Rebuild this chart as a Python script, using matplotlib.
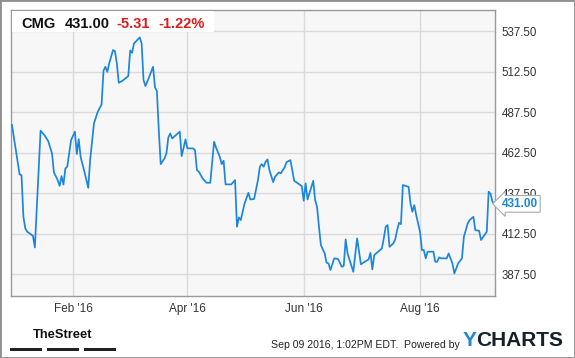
import matplotlib
matplotlib.use("Agg")
import matplotlib.pyplot as plt
from matplotlib.patches import Rectangle
from matplotlib.transforms import offset_copy
import pandas as pd

ticker = "CMG"
last_price = 431.00
change = -5.31
change_pct = -1.22

dates = [
    "2015-12-31", "2016-01-04", "2016-01-05", "2016-01-06", "2016-01-07", "2016-01-08",
    "2016-01-11", "2016-01-12", "2016-01-15", "2016-01-17", "2016-01-19", "2016-01-21",
    "2016-01-22", "2016-01-24", "2016-01-25", "2016-01-26", "2016-01-27", "2016-01-28",
    "2016-01-29", "2016-01-30", "2016-01-31", "2016-02-02", "2016-02-03", "2016-02-04",
    "2016-02-05", "2016-02-07", "2016-02-09", "2016-02-10", "2016-02-12", "2016-02-13",
    "2016-02-14", "2016-02-16", "2016-02-17", "2016-02-18", "2016-02-19", "2016-02-20",
    "2016-02-21", "2016-02-22", "2016-02-23", "2016-02-24", "2016-02-25", "2016-02-27",
    "2016-03-01", "2016-03-02", "2016-03-03", "2016-03-04", "2016-03-07", "2016-03-08",
    "2016-03-09", "2016-03-10", "2016-03-12", "2016-03-14", "2016-03-15", "2016-03-16",
    "2016-03-17", "2016-03-18", "2016-03-20", "2016-03-21", "2016-03-22", "2016-03-23",
    "2016-03-24", "2016-03-26", "2016-03-28", "2016-03-29", "2016-03-31", "2016-04-01",
    "2016-04-04", "2016-04-05", "2016-04-06", "2016-04-07", "2016-04-09", "2016-04-11",
    "2016-04-13", "2016-04-15", "2016-04-16", "2016-04-18", "2016-04-19", "2016-04-20",
    "2016-04-21", "2016-04-24", "2016-04-26", "2016-04-27", "2016-04-28", "2016-04-29",
    "2016-05-01", "2016-05-03", "2016-05-04", "2016-05-06", "2016-05-08", "2016-05-09",
    "2016-05-10", "2016-05-11", "2016-05-12", "2016-05-13", "2016-05-14", "2016-05-16",
    "2016-05-17", "2016-05-19", "2016-05-20", "2016-05-22", "2016-05-23", "2016-05-25",
    "2016-05-26", "2016-05-27", "2016-05-29", "2016-05-31", "2016-06-01", "2016-06-02",
    "2016-06-03", "2016-06-06", "2016-06-07", "2016-06-08", "2016-06-09", "2016-06-10",
    "2016-06-12", "2016-06-13", "2016-06-14", "2016-06-15", "2016-06-17", "2016-06-19",
    "2016-06-21", "2016-06-22", "2016-06-23", "2016-06-24", "2016-06-27", "2016-06-29",
    "2016-07-01", "2016-07-03", "2016-07-05", "2016-07-06", "2016-07-07", "2016-07-08",
    "2016-07-10", "2016-07-12", "2016-07-13", "2016-07-14", "2016-07-15", "2016-07-16",
    "2016-07-18", "2016-07-19", "2016-07-20", "2016-07-21", "2016-07-22", "2016-07-23",
    "2016-07-26", "2016-07-27", "2016-07-28", "2016-07-29", "2016-07-30", "2016-07-31",
    "2016-08-01", "2016-08-02", "2016-08-03", "2016-08-04", "2016-08-05", "2016-08-08",
    "2016-08-09", "2016-08-10", "2016-08-11", "2016-08-12", "2016-08-15", "2016-08-16",
    "2016-08-18", "2016-08-19", "2016-08-21", "2016-08-23", "2016-08-24", "2016-08-26",
    "2016-08-27", "2016-08-29", "2016-08-30", "2016-09-01", "2016-09-02", "2016-09-05",
    "2016-09-06", "2016-09-07", "2016-09-08", "2016-09-09",
]
prices = [
    479.6, 449.1, 448.7, 423.0, 415.8, 413.8,
    411.3, 404.1, 476.1, 473.4, 469.7, 462.1,
    450.4, 445.6, 442.1, 448.1, 442.9, 452.8,
    453.9, 462.1, 470.3, 475.5, 461.7, 470.9,
    460.0, 450.8, 440.9, 458.0, 480.6, 484.3,
    487.8, 492.3, 513.0, 515.5, 512.4, 517.6,
    521.7, 525.8, 525.2, 517.6, 505.6, 506.9,
    509.8, 525.6, 524.1, 529.9, 533.6, 529.9,
    507.3, 503.6, 509.3, 515.5, 502.8, 500.5,
    476.5, 455.5, 459.0, 462.1, 471.9, 474.4,
    471.3, 473.4, 475.5, 460.4, 470.7, 465.2,
    465.2, 464.1, 451.8, 450.8, 446.7, 444.0,
    444.0, 469.3, 465.8, 460.0, 455.5, 457.6,
    443.0, 443.0, 445.6, 416.9, 422.6, 421.0,
    431.3, 437.8, 433.7, 434.0, 445.6, 453.9,
    455.5, 453.9, 456.9, 458.4, 451.8, 444.4,
    447.7, 450.4, 449.8, 453.5, 456.7, 458.0,
    451.8, 445.2, 443.6, 441.9, 432.9, 443.6,
    433.7, 445.2, 433.3, 429.2, 416.9, 405.6,
    400.4, 394.7, 394.3, 390.2, 397.4, 397.0,
    392.2, 392.8, 409.1, 400.4, 389.1, 409.7,
    393.7, 395.3, 396.7, 400.8, 390.6, 399.4,
    401.5, 403.5, 409.7, 416.9, 417.9, 404.5,
    406.6, 409.1, 414.8, 419.3, 418.5, 442.6,
    441.5, 431.3, 426.1, 430.2, 424.1, 418.9,
    413.8, 402.5, 402.5, 397.4, 401.5, 401.5,
    395.3, 395.3, 398.0, 397.4, 397.4, 400.4,
    394.3, 388.1, 394.3, 397.4, 410.7, 418.9,
    421.0, 423.0, 414.8, 414.4, 408.7, 413.8,
    438.5, 437.1, 432.3, 431.0,
]
y_ticks = [387.5, 412.5, 437.5, 462.5, 487.5, 512.5, 537.5]
x_ticks = ["2016-02-01", "2016-04-01", "2016-06-01", "2016-08-01"]
x_tick_labels = ["Feb '16", "Apr '16", "Jun '16", "Aug '16"]

W, H = 575, 358
fig = plt.figure(figsize=(W / 100, H / 100), dpi=100)
fig.patch.set_facecolor("white")
plt.rcParams["font.family"] = ["Liberation Sans", "DejaVu Sans"]

# plot box in pixels: x 10.7..494.7, y 10..295.5 (from top)
ax = fig.add_axes([10.7 / W, 1 - 295.5 / H, 484 / W, 285.5 / H])
ax.set_facecolor("#f7f7f7")

x = pd.to_datetime(dates)
ax.plot(x, prices, color="#1c86dd", lw=1.25, zorder=3)

ax.set_xlim(pd.Timestamp("2015-12-31") - pd.Timedelta(hours=16),
            pd.Timestamp("2016-09-09") + pd.Timedelta(hours=4))
ax.set_ylim(374.5, 550.5)

ax.set_yticks(y_ticks)
ax.set_yticklabels(["%.2f" % v for v in y_ticks])
ax.set_xticks(pd.to_datetime(x_ticks))
ax.set_xticklabels(x_tick_labels)
ax.yaxis.tick_right()
ax.tick_params(axis="y", length=0, pad=5, labelsize=8.3, labelcolor="#333333")
ax.tick_params(axis="x", length=0, pad=5.5, labelsize=8.5, labelcolor="#333333")
ax.grid(True, color="#dadada", lw=1)
ax.set_axisbelow(True)
for s in ax.spines.values():
    s.set_color("#9a9a9a")
    s.set_linewidth(1)

# last value label
tr = offset_copy(ax.get_yaxis_transform(), fig=fig, x=7, y=0, units="dots")
ax.text(1.0, prices[-1], "%.2f" % last_price, transform=tr, ha="left", va="center",
        fontsize=8.5, fontweight="bold", color="#1c86dd", clip_on=False, zorder=5,
        bbox=dict(boxstyle="larrow,pad=0.2", fc="white", ec="#aaaaaa", lw=0.8))

# header box
fig.add_artist(Rectangle((11.5 / W, 1 - 32 / H), 202 / W, 21.5 / H,
                         transform=fig.transFigure, fc="white", ec="none", zorder=2))
hy = 1 - 23.5 / H
fig.text(21.5 / W, hy, ticker, fontsize=10.5, fontweight="bold", color="#111111", va="center")
fig.text(64.5 / W, hy, "%.2f" % last_price, fontsize=10.5, fontweight="bold", color="#111111", va="center")
fig.text(116.5 / W, hy, "%.2f" % change, fontsize=10.5, fontweight="bold", color="#d91c1c", va="center")
fig.text(158.5 / W, hy, "%.2f%%" % change_pct, fontsize=10.5, fontweight="bold", color="#d91c1c", va="center")

# footer
fig.text(63 / W, 1 - 335.5 / H, "TheStreet", fontsize=9.3, fontweight="bold", color="#111111",
         ha="center", va="center")
for bx in (10, 47, 84):
    fig.add_artist(Rectangle((bx / W, 1 - 350.5 / H), 32 / W, 3 / H,
                             transform=fig.transFigure, fc="#222222", ec="none"))
fig.text(460 / W, 1 - 345 / H, "Sep 09 2016, 1:02PM EDT.  Powered by", fontsize=7.6,
         color="#222222", ha="right", va="center")
fig.text(463 / W, 1 - 341 / H, "Y", fontsize=15, fontweight="bold", color="#1e88d8", va="center")
fig.text(476 / W, 1 - 341 / H, "CHARTS", fontsize=15, fontweight="bold", color="#16202c", va="center")

# outer frame
fig.add_artist(Rectangle((0, 0), 1, 1, transform=fig.transFigure, fill=False,
                         ec="#8f8f8f", lw=2))

fig.savefig("out.png", dpi=100)
